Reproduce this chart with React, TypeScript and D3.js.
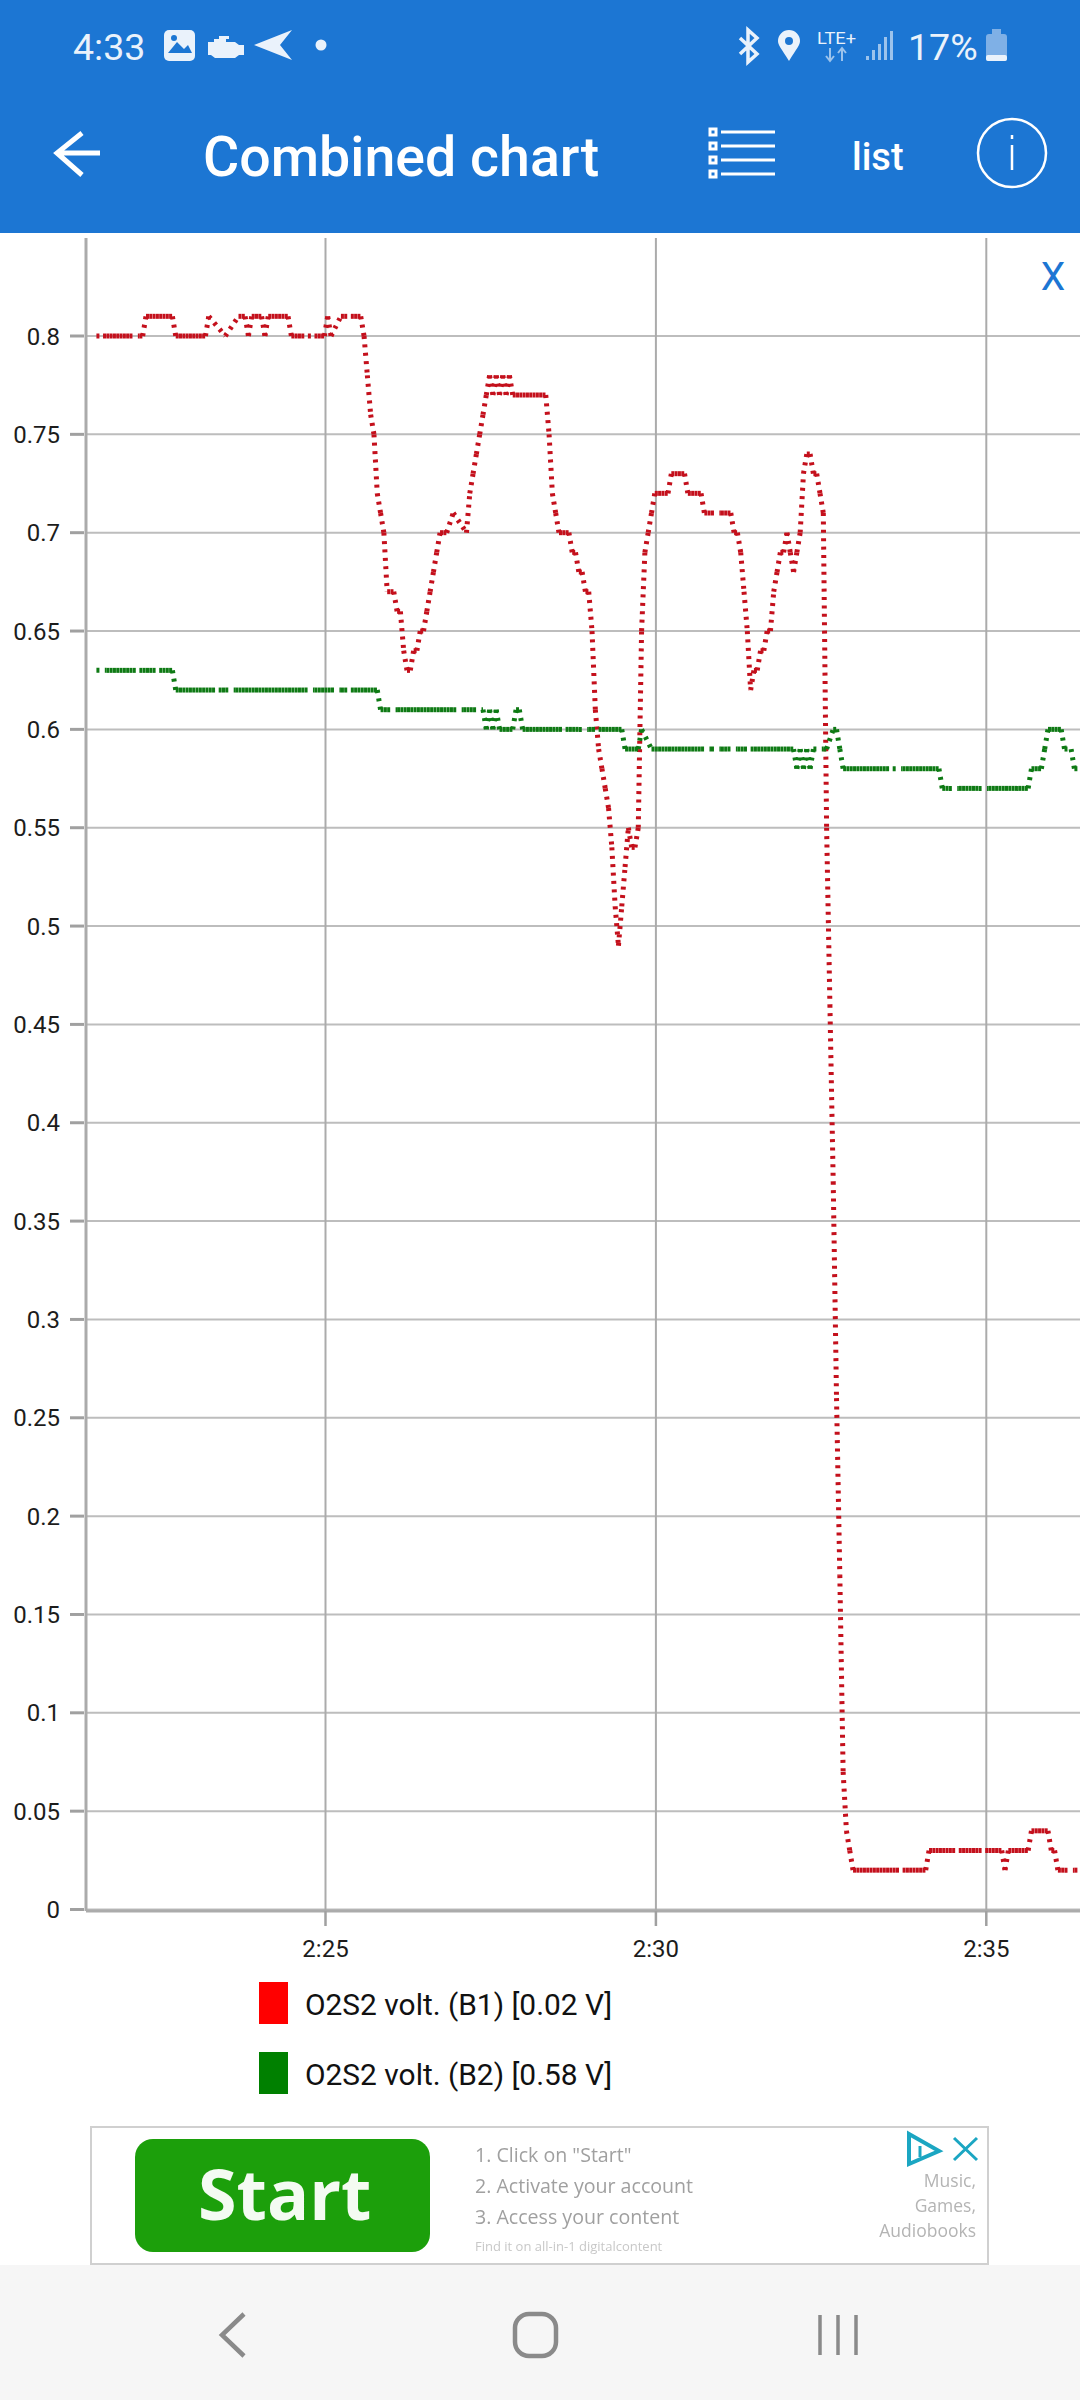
import React from "react";
import * as d3 from "d3";

const _ = null;
// One reading every 3 s, starting at 2:21:32 (seconds counted from 2:20:00). null = reading missing in the log.
const firstSample = 92;
const sampleStep = 3;
const b1Values = [
  .80,_,.80,.80,.80,.80,.80,.80,.80,.80,
  .80,_,_,.80,.80,.81,.81,.81,.81,.81,
  .81,.81,.81,.81,.80,.80,.80,.80,.80,.80,
  .80,.80,.80,.80,.81,_,_,_,_,.80,
  _,_,_,.81,.81,.81,.80,.81,.81,.81,
  .81,.80,.81,.81,.81,.81,.81,.81,.81,.80,
  .80,.80,.80,_,.80,_,.80,.80,.80,.80,
  .81,.80,_,_,.81,.81,_,.81,.81,.81,
  .81,.80,.78,.76,.75,.72,.71,.70,.67,.67,
  .67,.66,.66,.64,.63,.63,.64,.64,.65,.65,
  .66,.67,.68,.69,.70,.70,.70,_,.71,_,
  _,_,.70,.72,.73,.74,.75,.76,.77,.78,
  .77,.78,.77,.78,.77,.78,.77,.77,.77,.77,
  .77,.77,.77,.77,.77,.77,.77,.75,.72,.71,
  .70,.70,.70,.70,.69,.69,.68,.68,.67,.67,
  .65,.61,.59,.58,.57,.56,.54,.51,.49,.51,
  .53,.55,.54,.54,.55,.65,.69,.70,.71,.72,
  .72,.72,.72,.72,.73,.73,.73,.73,.73,.72,
  .72,.72,.72,.72,.71,.71,.71,_,_,.71,
  .71,.71,.71,.70,.70,.69,.67,.65,.62,.63,
  .63,.64,.64,.65,.65,.67,.68,.69,.69,.70,
  .69,.68,.69,.70,.73,.74,.74,.73,.73,.72,
  .71,.55,.46,.37,.26,.17,.07,.04,.03,.02,
  .02,.02,.02,.02,.02,.02,.02,.02,.02,.02,
  .02,.02,.02,_,.02,.02,.02,.02,.02,.02,
  .02,.02,.03,.03,.03,.03,.03,.03,.03,.03,
  _,.03,.03,.03,.03,.03,.03,.03,_,.03,
  .03,.03,.03,.03,.03,.02,.03,.03,.03,.03,
  .03,.03,.03,.04,.04,.04,.04,.04,.04,.03,
  .03,.02,.02,.02,_,_,.02,.02,
];
const b2Values = [
  .63,_,_,.63,.63,.63,.63,.63,.63,.63,
  .63,.63,_,.63,.63,.63,.63,.63,_,.63,
  .63,.63,.63,.63,.62,.62,.62,.62,.62,.62,
  .62,.62,.62,.62,.62,.62,_,.62,.62,.62,
  _,_,.62,.62,.62,.62,.62,.62,.62,.62,
  .62,.62,.62,.62,.62,.62,.62,.62,.62,.62,
  .62,.62,.62,.62,_,_,.62,.62,.62,.62,
  .62,.62,_,_,.62,.62,_,.62,.62,.62,
  .62,.62,.62,.62,.62,.62,.61,.61,.61,_,
  _,.61,.61,.61,.61,.61,.61,.61,.61,.61,
  .61,.61,.61,.61,.61,.61,.61,.61,.61,_,
  _,.61,.61,.61,.61,_,_,.61,.60,.61,
  .60,.61,.60,.60,.60,.60,.60,.61,.61,.60,
  .60,.60,.60,.60,.60,.60,.60,.60,.60,.60,
  .60,_,.60,.60,.60,.60,.60,_,_,.60,
  .60,_,.60,.60,.60,.60,.60,.60,.60,.60,
  .59,.59,.59,.59,.59,.60,_,_,.59,.59,
  .59,.59,.59,.59,.59,.59,.59,.59,.59,.59,
  .59,.59,.59,.59,_,_,.59,_,_,.59,
  .59,.59,_,_,.59,.59,.59,_,.59,.59,
  .59,.59,.59,.59,.59,.59,.59,.59,.59,.59,
  .59,.59,.58,.59,.58,.59,.58,.59,_,_,
  .59,.59,_,.60,.60,.59,.58,.58,.58,.58,
  .58,.58,.58,.58,.58,.58,.58,.58,.58,.58,
  _,.58,_,_,.58,.58,.58,.58,.58,.58,
  .58,.58,.58,.58,.58,.58,.57,.57,.57,_,
  _,.57,.57,.57,.57,.57,.57,.57,_,_,
  .57,.57,.57,.57,.57,.57,.57,.57,.57,.57,
  .57,.57,.57,.58,.58,.58,.58,.59,.60,.60,
  .60,.60,.60,.59,_,.59,.58,.58,
];
const yTickValues = [0,.05,.1,.15,.2,.25,.3,.35,.4,.45,.5,.55,.6,.65,.7,.75,.8];
const yTickLabels = ["0","0.05","0.1","0.15","0.2","0.25","0.3","0.35","0.4","0.45","0.5","0.55","0.6","0.65","0.7","0.75","0.8"];
const xTickValues = [300,600,900];
const xTickLabels = ["2:25","2:30","2:35"];
const legendNames = ["O2S2 volt. (B1) [0.02 V]","O2S2 volt. (B2) [0.58 V]"];
const adSteps = ['1. Click on "Start"',"2. Activate your account","3. Access your content"];
const adTopics = ["Music,","Games,","Audiobooks"];

const BLUE = "#1c76d3";
const GRID = "#bdbdbd";
const AXIS = "#ababab";
const TOP = 238, BOTTOM = 1911, LEFT = 86, RIGHT = 1080;
const x = d3.scaleLinear().domain([300,900]).range([325.5,986.3]);
const y = d3.scaleLinear().domain([0,.8]).range([1909.5,336]);
const ROBOTO = "Roboto, sans-serif";

function Series({values,color}:{values:(number|null)[],color:string}) {
  const line = d3.line<[number,number]>().x(d=>x(d[0])).y(d=>y(d[1]));
  const pts = values.map((v,i)=>v==null?null:[firstSample+i*sampleStep,v] as [number,number]).filter(Boolean) as [number,number][];
  const segs = d3.pairs(pts);
  return <g>{segs.map((s,i)=><path key={i} d={line(s)!} fill="none" stroke={color} strokeWidth={5} strokeDasharray="3 5.4"/>)}</g>;
}

export default function App() {
  return (
    <svg width={1080} height={2400} viewBox="0 0 1080 2400" style={{position:"absolute",left:0,top:0,background:"#fff"}} fontFamily={ROBOTO}>
      <defs>
        <filter id="soft" x="-5%" y="-20%" width="110%" height="140%"><feGaussianBlur stdDeviation="0.6"/></filter>
      </defs>
      {/* header */}
      <rect x={0} y={0} width={1080} height={233} fill={BLUE}/>
      <text x={73} y={60} fontSize={37.5} fill="#eaf2fb">4:33</text>
      <rect x={164} y={30} width={31} height={31} rx={5} fill="#eaf2fb"/>
      <path d="M168 53 L177 42 L184 49 L188 45 L192 53 Z" fill={BLUE}/>
      <circle cx={174} cy={38} r={3} fill={BLUE}/>
      <path d="M208 42 h6 v-3 h5 v-3 h10 v3 h-3 v3 h9 l4 3 h5 v10 h-5 l-4 3 h-20 l-4 -3 h-3 z" fill="#eaf2fb"/>
      <path d="M292 30 L254 45 L292 60 L280 45 Z" fill="#eaf2fb"/>
      <circle cx={321} cy={45} r={5.5} fill="#eaf2fb"/>
      <path d="M740 38 L757 54 L748 62 V30 L757 38 L740 54" fill="none" stroke="#eaf2fb" strokeWidth={3.5}/>
      <path d="M789 61 C781 48 778 45 778 41 A11 11 0 0 1 800 41 C800 45 797 48 789 61Z" fill="#eaf2fb"/>
      <circle cx={789} cy={41} r={4} fill={BLUE}/>
      <text x={817} y={44} fontSize={17} fill="#eaf2fb" textLength={39} lengthAdjust="spacingAndGlyphs">LTE+</text>
      <path d="M830 48 V61 M826 56 L830 61 L834 56 M842 61 V48 M838 53 L842 48 L846 53" fill="none" stroke="#9cc3ec" strokeWidth={2}/>
      <g fill="#9cc3ec">
        <rect x={866} y={56} width={3} height={4}/><rect x={872} y={50} width={3} height={10}/>
        <rect x={878} y={44} width={3} height={16}/><rect x={884} y={37} width={3} height={23}/><rect x={890} y={31} width={3} height={29}/>
      </g>
      <text x={908} y={60} fontSize={37.5} fill="#eaf2fb">17%</text>
      <rect x={986} y={34} width={21} height={27} rx={3} fill="#7fb0e6"/>
      <rect x={992} y={29} width={9} height={6} fill="#7fb0e6"/>
      <rect x={986} y={55} width={21} height={6} rx={2} fill="#eaf2fb"/>
      <path d="M82 133 L57 153 L82 175 M57 153 H100" fill="none" stroke="#fff" strokeWidth={5}/>
      <text x={203} y={176} fontSize={55.5} fontWeight={500} fill="#fff">Combined chart</text>
      <g stroke="#fff" strokeWidth={3} fill="none">
        {[132,146,160,174].map(v=><g key={v}><rect x={710} y={v-3} width={6} height={6}/><path d={`M721 ${v}H775`}/></g>)}
      </g>
      <text x={852} y={170} fontSize={38} fontWeight={500} fill="#fff">list</text>
      <circle cx={1012} cy={153} r={34} fill="none" stroke="#fff" strokeWidth={2.5}/>
      <path d="M1012 145V170M1012 135V139" stroke="#fff" strokeWidth={2.5}/>

      {/* grid */}
      {yTickValues.map((v)=><line key={v} x1={LEFT} x2={RIGHT} y1={y(v)} y2={y(v)} stroke={GRID} strokeWidth={2}/>)}
      {xTickValues.map((v)=><line key={v} x1={x(v)} x2={x(v)} y1={TOP} y2={BOTTOM} stroke={AXIS} strokeWidth={2}/>)}
      {/* axes */}
      <line x1={LEFT} x2={LEFT} y1={TOP} y2={BOTTOM} stroke={AXIS} strokeWidth={3}/>
      <line x1={LEFT} x2={RIGHT} y1={BOTTOM} y2={BOTTOM} stroke={AXIS} strokeWidth={3}/>
      {yTickValues.map((v,i)=><g key={v}>
        <line x1={70} x2={84} y1={y(v)} y2={y(v)} stroke="#a0a0a0" strokeWidth={3}/>
        <text x={60} y={y(v)+8.5} textAnchor="end" fontSize={24} fill="#1c1c1c">{yTickLabels[i]}</text>
      </g>)}
      {xTickValues.map((v,i)=><g key={v}>
        <line x1={x(v)} x2={x(v)} y1={BOTTOM} y2={1926} stroke="#a0a0a0" strokeWidth={2.5}/>
        <text x={x(v)} y={1957} textAnchor="middle" fontSize={24} fill="#1c1c1c">{xTickLabels[i]}</text>
      </g>)}
      <Series values={b1Values} color="#c4101c"/>
      <Series values={b2Values} color="#0e7a14"/>
      <text x={1053} y={290} textAnchor="middle" fontSize={39} fill={BLUE}>X</text>

      {/* legend */}
      {legendNames.map((n,i)=><g key={n}>
        <rect x={259} y={1982+i*70} width={29} height={42} fill={i===0?"#ff0000":"#008000"}/>
        <text x={305} y={2015+i*70} fontSize={29.9} fill="#111">{n}</text>
      </g>)}

      {/* ad */}
      <rect x={91} y={2127} width={897} height={137} fill="#fff" stroke="#d0d0d0" strokeWidth={2}/>
      <rect x={135} y={2139} width={295} height={113} rx={18} fill="#1c9f0b"/>
      <text x={198} y={2220} fontFamily="'Open Sans', sans-serif" fontWeight={700} fontSize={70} fill="#f4fbf2" filter="url(#soft)">Start</text>
      <g fontFamily="'Open Sans', sans-serif" fill="#a0a0a0" fontSize={19.6} filter="url(#soft)">
        {adSteps.map((s,i)=><text key={s} x={475} y={2162+i*31}>{s}</text>)}
        <text x={475} y={2251} fontSize={13} fill="#c8c8c8">Find it on all-in-1 digitalcontent</text>
        {adTopics.map((s,i)=><text key={s} x={976} y={2187+i*25} textAnchor="end" fontSize={17.5} fill="#b4b4b4">{s}</text>)}
      </g>
      <path d="M909 2134 L939 2151 L909 2164 Z" fill="none" stroke="#1ba6c2" strokeWidth={4}/>
      <path d="M920 2146V2157" stroke="#1ba6c2" strokeWidth={3}/>
      <path d="M954 2138L977 2160M977 2138L954 2160" stroke="#1ba6c2" strokeWidth={3}/>

      {/* navigation */}
      <rect x={0} y={2265} width={1080} height={135} fill="#f6f6f6"/>
      <path d="M244 2314L222 2335L244 2356" fill="none" stroke="#8a8a8a" strokeWidth={4.5}/>
      <rect x={515} y={2314} width={41} height={42} rx={14} fill="none" stroke="#8a8a8a" strokeWidth={4.5}/>
      <path d="M820 2315V2355M838 2315V2355M856 2315V2355" stroke="#8a8a8a" strokeWidth={3.5}/>
    </svg>
  );
}
